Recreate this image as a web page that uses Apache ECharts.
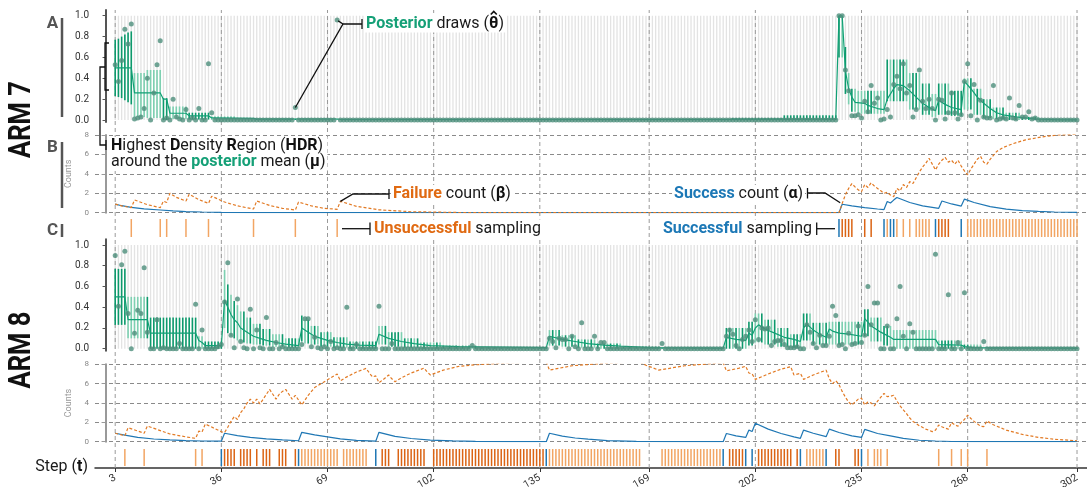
<!DOCTYPE html>
<html>
<head>
<meta charset="utf-8">
<script src="https://cdn.jsdelivr.net/npm/echarts@6/dist/echarts.min.js"></script>
<style>
  html, body { margin: 0; padding: 0; background: #fff; }
  #chart { width: 1087px; height: 487px; }
</style>
</head>
<body>
<div id="chart"></div>
<script>
// ---- data ----
const xTicks = [3, 36, 69, 102, 135, 169, 202, 235, 268, 302];
const probTicks = [0, 0.2, 0.4, 0.6, 0.8, 1.0];
const firstStep = 3, lastStep = 302;

// posterior draws that are clearly above zero, [step, value]; the rest sit on 0
const draws7 = [[3,0.53],[4,0.37],[5,0.57],[6,0.87],[7,0.73],[8,0.92],[9,0.01],[10,0.02],[11,0.03],[12,0.11],[13,0.4],[15,0.26],[16,0.53],[17,0.76],[19,0.02],[21,0.2],[22,0.03],[23,0.01],[25,0.1],[27,0.02],[29,0.11],[32,0.54],[33,0.07],[59,0.12],[72,0.96],
  [228,1.0],[229,1.0],[230,0.48],[231,0.28],[232,0.04],[233,0.04],[234,0.05],[235,0.02],[236,0.18],[237,0.08],[238,0.33],[239,0.16],[240,0.21],[242,0.01],[243,0.1],[244,0.03],[245,0.34],[246,0.42],[247,0.3],[248,0.54],[249,0.26],[250,0.33],[251,0.03],[252,0.1],[253,0.48],[254,0.18],[255,0.11],[256,0.2],[257,0.11],[259,0.2],[260,0.19],[261,0.01],[262,0.07],[263,0.26],[264,0.07],[265,0.01],[266,0.05],[267,0.37],[268,0.54],[269,0.04],[270,0.34],[272,0.19],[273,0.03],[274,0.02],[275,0.02],[276,0.33],[278,0.01],[279,0.02],[280,0.01],[281,0.21],[282,0.02],[283,0.01],[284,0.14],[285,0.03],[286,0.03],[287,0.08],[288,0.01],[289,0.02]];
const draws8 = [[3,0.9],[4,0.41],[5,0.81],[6,0.94],[7,0.34],[9,0.15],[10,0.37],[11,0.34],[12,0.78],[13,0.16],[16,0.28],[18,0.01],[23,0.05],[28,0.43],[30,0.18],[35,0.02],[36,0.04],[37,0.45],[38,0.83],[39,0.13],[40,0.01],[41,0.48],[42,0.07],[43,0.01],[45,0.38],[47,0.18],[48,0.01],[50,0.3],[53,0.06],[55,0.02],[61,0.04],[62,0.29],[63,0.29],[64,0.02],[65,0.11],[66,0.01],[68,0.02],[70,0.07],[72,0.01],[75,0.4],[78,0.04],[85,0.41],[89,0.05],[114,0.03],
  [138,0.1],[139,0.07],[140,0.01],[141,0.1],[142,0.09],[143,0.09],[145,0.12],[146,0.02],[148,0.25],[152,0.12],[154,0.06],[155,0.06],[173,0.05],
  [193,0.12],[194,0.18],[195,0.14],[196,0.03],[198,0.09],[199,0.12],[200,0.18],[201,0.07],[202,0.28],[203,0.09],[204,0.2],[205,0.19],[206,0.2],[207,0.03],[208,0.07],[209,0.08],[210,0.08],[211,0.04],[212,0.01],[213,0.01],[214,0.01],[215,0.02],[218,0.23],[219,0.16],[220,0.05],[221,0.01],[222,0.13],[223,0.03],[224,0.03],[225,0.12],[226,0.41],[227,0.32],[228,0.03],[229,0.04],[231,0.15],[232,0.04],[233,0.05],[234,0.22],[235,0.06],[236,0.13],[237,0.6],[238,0.23],[239,0.44],[240,0.44],[243,0.22],[246,0.29],[247,0.6],[248,0.12],[250,0.24],[251,0.16],[258,0.91],[262,0.52],[265,0.06],[267,0.54],[273,0.07]];

// posterior mean, [step, value]
const mean7 = [[3,0.5],[8,0.5],[9,0.26],[17,0.26],[18,0.2],[19,0.2],[20,0.065],[25,0.065],[26,0.04],[32,0.04],[33,0.02],[46,0.015],[47,0.01],[72,0.01],[73,0.005],[200,0.005],[227,0.01],[228,1.0],[229,1.0],[230,0.47],[231,0.3],[232,0.22],[233,0.17],[236,0.16],[237,0.14],[240,0.11],[242,0.1],[243,0.2],[245,0.3],[246,0.34],[248,0.33],[250,0.28],[252,0.22],[254,0.16],[256,0.12],[258,0.09],[259,0.19],[261,0.15],[263,0.12],[266,0.1],[267,0.37],[269,0.3],[271,0.22],[273,0.16],[275,0.11],[277,0.07],[279,0.05],[283,0.03],[289,0.01],[295,0.003],[302,0.002]];
const mean8 = [[3,0.5],[6,0.5],[7,0.28],[13,0.28],[14,0.15],[28,0.15],[29,0.08],[30,0.06],[31,0.03],[36,0.03],[37,0.47],[38,0.4],[39,0.33],[40,0.28],[41,0.25],[42,0.2],[44,0.16],[46,0.12],[48,0.1],[50,0.08],[53,0.06],[56,0.045],[60,0.03],[61,0.2],[63,0.16],[65,0.12],[67,0.1],[69,0.08],[72,0.06],[75,0.045],[79,0.035],[84,0.03],[85,0.14],[88,0.1],[92,0.07],[96,0.05],[101,0.03],[110,0.02],[137,0.01],[138,0.12],[142,0.09],[146,0.07],[150,0.05],[155,0.035],[160,0.025],[170,0.01],[192,0.005],[193,0.11],[196,0.09],[199,0.08],[200,0.15],[201,0.13],[202,0.2],[203,0.23],[205,0.19],[208,0.15],[211,0.11],[214,0.09],[216,0.07],[217,0.2],[218,0.24],[220,0.18],[222,0.14],[224,0.11],[225,0.19],[226,0.17],[228,0.15],[231,0.14],[235,0.12],[236,0.29],[238,0.22],[241,0.16],[244,0.11],[245,0.09],[258,0.09],[259,0.04],[266,0.035],[267,0.02],[270,0.01],[302,0.005]];

// HDR per block of steps, [fromStep, toStep, low, high]
const hdr7 = [[3,3,0.23,0.77],[4,4,0.22,0.78],[5,5,0.21,0.8],[6,6,0.19,0.82],[7,7,0.17,0.84],[8,8,0.15,0.85],[9,12,0.03,0.45],[13,17,0.02,0.48],[18,19,0.0,0.21],[20,25,0.01,0.13],[26,32,0.005,0.07],[33,40,0.002,0.035],[41,72,0,0.012],[195,210,0,0.02],[211,227,0,0.045],[228,229,0.6,1.0],[230,230,0.25,0.7],[231,231,0.15,0.45],[232,233,0.08,0.3],[234,242,0.06,0.28],[243,249,0.18,0.58],[250,253,0.1,0.45],[254,256,0.05,0.35],[257,258,0.03,0.25],[259,262,0.05,0.35],[263,266,0.04,0.28],[267,269,0.1,0.4],[270,272,0.05,0.3],[273,275,0.02,0.2],[276,279,0.01,0.12],[280,284,0,0.07],[285,290,0,0.03]];
const hdr8 = [[3,6,0.23,0.77],[7,13,0.1,0.5],[14,28,0.0,0.3],[29,30,0.0,0.12],[31,36,0.0,0.07],[37,37,0.2,0.76],[38,38,0.15,0.62],[39,39,0.12,0.52],[40,40,0.1,0.46],[41,41,0.08,0.42],[42,43,0.06,0.36],[44,45,0.05,0.3],[46,48,0.04,0.24],[49,51,0.03,0.19],[52,55,0.02,0.14],[56,60,0.01,0.1],[61,61,0.07,0.32],[62,63,0.05,0.28],[64,66,0.04,0.22],[67,70,0.02,0.16],[71,75,0.01,0.11],[76,84,0.0,0.07],[85,87,0.04,0.22],[88,92,0.02,0.16],[93,97,0.01,0.1],[98,104,0.0,0.06],[105,115,0,0.03],[116,137,0,0.015],[138,141,0.03,0.18],[142,146,0.02,0.13],[147,152,0.01,0.09],[153,160,0,0.05],[161,172,0,0.02],[173,192,0,0.01],[193,199,0.0,0.2],[200,201,0.03,0.26],[202,204,0.06,0.34],[205,208,0.04,0.28],[209,212,0.02,0.2],[213,216,0.01,0.14],[217,219,0.08,0.34],[220,224,0.04,0.25],[225,235,0.04,0.26],[236,237,0.12,0.38],[238,241,0.07,0.3],[242,244,0.03,0.22],[245,258,0.0,0.18],[259,266,0.0,0.08],[267,272,0.0,0.04],[273,302,0,0.01]];

// discounted success (alpha) and failure (beta) counts, [step, value]
const alpha7 = [[3,0.89],[5,0.72],[8,0.55],[12,0.4],[17,0.28],[21,0.18],[25,0.11],[30,0.07],[36,0.04],[45,0.015],[60,0],[228,0],[229,0.87],[232,0.7],[236,0.52],[240,0.38],[242,0.32],[243,1.15],[244,1.0],[245,1.3],[246,1.57],[250,1.05],[254,0.7],[259,0.45],[260,1.2],[263,0.9],[266,0.68],[267,1.4],[270,1.05],[275,0.63],[280,0.37],[285,0.22],[290,0.13],[295,0.07],[302,0.03]];
const beta7 = [[3,0.89],[5,0.7],[8,0.52],[9,1.31],[13,0.83],[17,0.52],[18,1.2],[19,1.05],[20,2.0],[22,1.58],[25,1.2],[26,1.9],[29,1.35],[32,0.96],[33,1.7],[37,1.1],[41,0.7],[46,0.38],[47,1.2],[51,0.75],[55,0.45],[59,0.28],[60,1.1],[64,0.7],[68,0.45],[72,0.35],[73,1.17],[78,0.65],[85,0.3],[95,0.1],[110,0.02],[130,0],[228,0],[229,0.96],[230,1.85],[231,2.5],[232,3.0],[233,2.65],[234,2.35],[235,2.17],[236,2.9],[237,2.6],[238,3.08],[239,2.75],[240,2.5],[241,2.25],[242,2.0],[243,2.1],[244,1.82],[245,1.65],[246,2.5],[247,2.25],[248,2.9],[249,2.6],[250,3.2],[251,3.0],[252,3.6],[253,4.2],[254,4.7],[255,5.1],[256,5.6],[257,5.0],[258,4.4],[259,5.0],[260,5.4],[261,5.7],[262,5.2],[263,5.4],[264,5.0],[265,5.4],[266,4.8],[267,4.3],[268,3.9],[269,4.5],[270,5.0],[271,5.5],[272,5.8],[273,5.2],[274,5.0],[275,5.5],[276,5.9],[277,6.3],[279,6.7],[282,7.1],[286,7.5],[291,7.8],[296,8.0],[302,8.07]];
const alpha8 = [[3,0.87],[6,0.68],[10,0.45],[15,0.28],[20,0.18],[25,0.11],[30,0.07],[36,0.05],[37,0.87],[41,0.62],[45,0.45],[50,0.3],[55,0.19],[60,0.1],[61,0.97],[65,0.7],[70,0.45],[73,0.3],[78,0.14],[84,0.05],[85,0.97],[90,0.55],[95,0.33],[101,0.17],[108,0.08],[115,0.03],[125,0],[137,0],[138,0.87],[142,0.58],[146,0.38],[150,0.26],[156,0.12],[165,0.04],[175,0],[192,0],[193,0.85],[196,0.6],[199,0.44],[200,1.2],[201,1.05],[202,1.9],[206,1.3],[210,0.85],[214,0.5],[216,0.35],[217,1.2],[220,0.87],[224,0.52],[225,1.3],[228,0.95],[232,0.6],[235,0.44],[236,1.27],[240,0.85],[244,0.6],[248,0.35],[253,0.15],[258,0.07],[263,0.02],[270,0],[302,0]];
const beta8 = [[3,0.87],[5,0.7],[6,0.62],[7,1.45],[12,0.87],[13,1.62],[20,0.8],[25,0.5],[28,0.35],[29,1.1],[30,1.0],[31,1.83],[36,1.03],[37,0.95],[38,1.5],[39,2.1],[40,2.6],[41,2.3],[42,3.0],[43,3.4],[44,4.0],[45,4.4],[46,4.0],[47,4.4],[48,3.9],[49,4.4],[50,4.9],[51,5.4],[52,4.9],[53,4.4],[54,4.9],[55,5.2],[56,5.4],[57,4.9],[58,4.4],[59,4.8],[60,4.3],[61,3.8],[62,4.3],[63,4.8],[65,5.6],[67,6.0],[69,6.4],[71,6.8],[72,7.0],[73,6.3],[75,6.7],[78,7.2],[81,7.58],[82,7.1],[83,6.7],[84,6.8],[85,6.1],[87,6.6],[88,6.9],[89,6.5],[90,6.2],[92,6.6],[95,7.1],[99,7.6],[100,7.2],[101,6.9],[105,7.4],[110,7.8],[115,7.95],[125,8.15],[137,8.26],[138,7.4],[145,7.85],[155,8.1],[166,8.26],[168,7.9],[172,7.4],[180,7.85],[192,8.16],[193,7.33],[197,7.6],[199,7.8],[200,7.1],[201,7.0],[202,6.44],[206,7.0],[210,7.5],[213,7.75],[214,6.9],[216,7.06],[217,6.44],[220,6.9],[224,7.4],[225,6.5],[226,6.0],[227,6.3],[228,5.9],[229,5.2],[230,4.6],[231,4.1],[232,3.8],[233,4.1],[234,4.4],[235,4.5],[236,3.8],[237,4.1],[238,4.0],[239,3.7],[240,4.2],[241,4.6],[242,5.0],[243,4.65],[244,4.7],[245,4.8],[246,4.2],[247,3.7],[248,3.3],[249,2.9],[250,2.45],[251,2.1],[253,1.65],[255,1.3],[257,1.04],[258,1.2],[259,1.73],[260,1.55],[261,1.4],[262,1.3],[263,1.97],[264,1.75],[265,1.6],[266,2.0],[267,2.3],[268,2.75],[269,2.4],[270,2.1],[272,1.6],[273,1.55],[274,2.14],[276,1.75],[280,1.2],[285,0.75],[290,0.45],[295,0.25],[302,0.1]];

// sampling events (rug)
const fail7 = [8,17,19,25,32,46,59,72,229,230,231,232,236,238,243,246,248,250,252,253,254,255,256,259,260,261,262,268,269,270,271,272,273,274,275,276,277,278,279,280,281,282,283,284,285,286,287,288,289,290,291,292,293,294,295,296,297,298,299,300,301,302];
const succ7 = [228,242,244,245,258,266];
const fail8 = [6,12,28,30,37,38,39,40,42,43,44,45,47,49,50,51,54,55,56,59,61,62,63,64,65,66,67,68,69,70,71,72,74,75,76,77,78,79,80,81,86,87,88,91,92,93,94,95,96,97,98,99,
  102,103,104,105,106,107,108,109,110,111,112,113,114,115,116,117,118,119,120,121,122,123,124,125,126,127,128,129,130,131,132,133,134,135,136,
  138,139,140,141,142,143,144,145,146,147,148,149,150,151,152,153,154,155,156,157,158,159,160,161,162,163,164,165,166,
  173,174,175,176,177,178,179,180,181,182,183,184,185,186,187,188,189,190,191,
  194,195,196,197,198,203,204,205,206,207,208,209,210,211,212,213,215,218,219,220,221,222,223,227,228,233,234,237,239,240,241,243,259,263,266,268,274];
const succ8 = [36,60,84,137,192,199,201,216,224,235];

// ---- drawing ----
const XMIN = -3.28, XMAX = 305.1;
const FONT = 'Roboto';
const C = {
  stripe: '#e3e3e3', hdrDark: '#0c9a6c', hdrLight: '#7dd0b1', mean: '#11a075', dot: '#4d8e7c',
  alpha: '#1f77b4', beta: '#e27a24', rugDark: '#db6414', rugLight: '#f2a563', grid: '#9a9a9a'
};

const steps = [];
for (let t = firstStep; t <= lastStep; t++) steps.push(t);

function fullDraws(nonzero) {
  const m = {};
  nonzero.forEach(d => { m[d[0]] = d[1]; });
  return steps.map(t => [t, m[t] !== undefined ? m[t] : 0]);
}
// HDR bars switch shade every time the arm is sampled
function expandHdr(segs, fails, succs) {
  const events = fails.concat(succs);
  const out = [];
  segs.forEach(s => {
    for (let t = s[0]; t <= s[1]; t++) {
      const k = events.filter(e => e < t).length;
      out.push([t, s[2], s[3], k % 2]);
    }
  });
  return out;
}
// rug shade switches after every success
function rugData(fails, succs) {
  const shade = t => succs.filter(s => s < t).length % 2 ? 0 : 1;
  return fails.map(t => [t, 0, 1, shade(t)]).concat(succs.map(t => [t, 0, 1, 2]));
}
function vline(colorFn, width, dash, y0, y1) {
  return function (params, api) {
    const t = api.value(0);
    const a = api.coord([t, y0 !== undefined ? y0 : api.value(1)]);
    const b = api.coord([t, y1 !== undefined ? y1 : api.value(2)]);
    return {
      type: 'line',
      shape: { x1: a[0], y1: a[1], x2: b[0], y2: b[1] },
      style: { stroke: colorFn(api.value(3)), lineWidth: width, lineDash: dash || null }
    };
  };
}

const grids = [
  { left: 95, top: 10, width: 992, height: 112 },      // 0 arm 7 draws
  { left: 95, top: 135, width: 992, height: 77.7 },    // 1 arm 7 counts
  { left: 95, top: 219, width: 992, height: 18 },      // 2 arm 7 rug
  { left: 95, top: 239.3, width: 992, height: 111.4 }, // 3 arm 8 draws
  { left: 95, top: 364.3, width: 992, height: 77.4 },  // 4 arm 8 counts
  { left: 95, top: 449, width: 992, height: 19 },      // 5 arm 8 rug + step axis
  { left: 95, top: 10, width: 992, height: 458 }       // 6 vertical tick lines
].map(g => Object.assign({ outerBoundsMode: 'none', containLabel: false }, g));

const xAxes = grids.map((g, i) => {
  const ax = { type: 'value', gridIndex: i, min: XMIN, max: XMAX, show: false, splitLine: { show: false } };
  if (i === 5) {
    Object.assign(ax, {
      show: true,
      axisLine: { lineStyle: { color: '#333', width: 1.5 } },
      axisTick: { customValues: xTicks, length: 4, lineStyle: { color: '#333' } },
      axisLabel: { customValues: xTicks, rotate: 30, fontSize: 10.5, color: '#333', margin: 9, fontFamily: FONT }
    });
  }
  return ax;
});

function probAxis(i) {
  return {
    type: 'value', gridIndex: i, min: -0.019, max: 1.055,
    axisLine: { show: true, lineStyle: { color: '#555', width: 2 } },
    axisTick: { show: true, customValues: probTicks, length: 3, lineStyle: { color: '#555' } },
    axisLabel: { customValues: probTicks, fontSize: 10, color: '#333', margin: 6, fontFamily: FONT,
      formatter: v => v.toFixed(1) },
    splitLine: { show: false }
  };
}
function countAxis(i) {
  return {
    type: 'value', gridIndex: i, min: 0, max: 8, interval: 2,
    name: 'Counts', nameLocation: 'middle', nameGap: 15,
    nameTextStyle: { fontSize: 9, color: '#999', fontFamily: FONT },
    axisLine: { show: true, lineStyle: { color: '#999', width: 2 } },
    axisTick: { show: true, length: 4, lineStyle: { color: '#999' } },
    axisLabel: { fontSize: 8, color: '#888', margin: 6, fontFamily: FONT },
    splitLine: { show: true, lineStyle: { color: '#8a8a8a', type: [4, 3], width: 1 } }
  };
}
function plainAxis(i) {
  return { type: 'value', gridIndex: i, min: 0, max: 1, show: false, splitLine: { show: false } };
}
const yAxes = [probAxis(0), countAxis(1), plainAxis(2), probAxis(3), countAxis(4), plainAxis(5), plainAxis(6)];

function armSeries(gDraw, gCount, gRug, draws, mean, hdr, alpha, beta, fails, succs, rugTop) {
  return [
    { type: 'custom', xAxisIndex: gDraw, yAxisIndex: gDraw, z: 2, silent: true,
      renderItem: vline(() => C.stripe, 1.3, null, 0, 1), data: steps.map(t => [t]) },
    { type: 'custom', xAxisIndex: gDraw, yAxisIndex: gDraw, z: 4, silent: true,
      renderItem: vline(c => (c ? C.hdrLight : C.hdrDark), 1.6), data: expandHdr(hdr, fails, succs) },
    { type: 'line', xAxisIndex: gDraw, yAxisIndex: gDraw, z: 5, showSymbol: false, silent: true,
      lineStyle: { color: C.mean, width: 1.2 }, data: mean },
    { type: 'scatter', xAxisIndex: gDraw, yAxisIndex: gDraw, z: 6, symbolSize: 5, silent: true,
      itemStyle: { color: C.dot }, data: fullDraws(draws) },
    { type: 'line', xAxisIndex: gCount, yAxisIndex: gCount, z: 5, showSymbol: false, silent: true,
      lineStyle: { color: C.alpha, width: 1.2 }, data: alpha },
    { type: 'line', xAxisIndex: gCount, yAxisIndex: gCount, z: 5, showSymbol: false, silent: true,
      lineStyle: { color: C.beta, width: 1.2, type: [3, 2] }, data: beta },
    { type: 'custom', xAxisIndex: gRug, yAxisIndex: gRug, z: 4, silent: true,
      renderItem: vline(c => (c === 2 ? C.alpha : (c ? C.rugLight : C.rugDark)), 1.5, null, rugTop, 1),
      data: rugData(fails, succs) }
  ];
}

const series = [
  { type: 'custom', xAxisIndex: 6, yAxisIndex: 6, z: 3, silent: true,
    renderItem: vline(() => C.grid, 1, [4, 3], 0, 1), data: xTicks.map(t => [t]) }
].concat(
  armSeries(0, 1, 2, draws7, mean7, hdr7, alpha7, beta7, fail7, succ7, 0),
  armSeries(3, 4, 5, draws8, mean8, hdr8, alpha8, beta8, fail8, succ8, 0.1)
);

const myChart = echarts.init(document.getElementById('chart'), null, { renderer: 'canvas' });
myChart.setOption({
  animation: false,
  backgroundColor: '#fff',
  textStyle: { fontFamily: FONT },
  grid: grids, xAxis: xAxes, yAxis: yAxes, series: series
});

// ---- labels and annotations ----
const ink = '#1a1a1a';
const measure = document.createElement('canvas').getContext('2d');
function textWidth(str, font) { measure.font = font; return measure.measureText(str).width; }

function rich() {
  const base = { fontFamily: FONT, fontSize: 16, lineHeight: 16, fill: ink, color: ink };
  return {
    n: Object.assign({}, base),
    b: Object.assign({}, base, { fontWeight: 'bold', fill: '#111', color: '#111' }),
    g: Object.assign({}, base, { fontWeight: 'bold', fill: '#15a077', color: '#15a077' }),
    o: Object.assign({}, base, { fontWeight: 'bold', fill: '#e06a12', color: '#e06a12' }),
    s: Object.assign({}, base, { fontWeight: 'bold', fill: '#1c78b6', color: '#1c78b6' })
  };
}
function note(x, y, text, align) {
  return {
    type: 'text', x: x, y: y, z: 50,
    style: { text: text, rich: rich(), font: '16px ' + FONT, fill: ink,
      align: align || 'left', verticalAlign: 'middle', textAlign: align || 'left', textVerticalAlign: 'middle',
      backgroundColor: '#fff', padding: [1, 2] }
  };
}
function pl(points, w) {
  return { type: 'polyline', z: 60, shape: { points: points }, style: { stroke: '#111', lineWidth: w || 1.3, fill: null } };
}
function side(x, y, label) {
  return {
    type: 'text', x: x, y: y, z: 50,
    style: { text: label, font: 'bold 17px ' + FONT, fill: '#555', align: 'center', verticalAlign: 'middle',
      textAlign: 'center', textVerticalAlign: 'middle' }
  };
}
function bar(x, y0, y1) {
  return { type: 'line', z: 50, shape: { x1: x, y1: y0, x2: x, y2: y1 }, style: { stroke: '#555', lineWidth: 2.5 } };
}
function armLabel(y, label) {
  return {
    type: 'text', x: 21.5, y: y, rotation: Math.PI / 2, scaleX: 0.8, z: 50,
    style: { text: label, font: 'bold 32px ' + FONT, fill: '#111', align: 'center', verticalAlign: 'middle',
      textAlign: 'center', textVerticalAlign: 'middle' }
  };
}

const px = (g, p) => myChart.convertToPixel({ gridIndex: g }, p);
const pDraw59 = px(0, [59, 0.12]);
const pDraw72 = px(0, [72, 0.96]);
const pBeta73 = px(1, [73, 1.17]);
const pAlpha229 = px(1, [229, 0.87]);

// hat over theta in "Posterior draws (theta-hat)"
const postX = 364, postY = 23.5;
const thetaX = postX + 2 + textWidth('Posterior', 'bold 16px ' + FONT) + textWidth(' draws (', '16px ' + FONT);
const thetaMid = thetaX + textWidth('θ', 'bold 16px ' + FONT) / 2;

myChart.setOption({
  graphic: [
    side(52.5, 24, 'A'), bar(62, 18, 117),
    side(52.5, 147.5, 'B'), bar(62, 142, 208),
    side(52.5, 230.5, 'C'), bar(62, 224, 237),
    armLabel(119.5, 'ARM 7'), armLabel(350, 'ARM 8'),
    { type: 'text', x: 88, y: 466.5, z: 50,
      style: { text: '{n|Step (}{b|t}{n|)}', rich: rich(), align: 'right', verticalAlign: 'middle',
        textAlign: 'right', textVerticalAlign: 'middle' } },

    // posterior draws
    note(postX, postY, '{g|Posterior}{n| draws (}{b|θ}{n|)}'),
    { type: 'polyline', z: 61, shape: { points: [[thetaMid - 3, 14.5], [thetaMid, 11.5], [thetaMid + 3, 14.5]] },
      style: { stroke: '#111', lineWidth: 1.6, fill: null } },
    pl([[pDraw59[0], pDraw59[1]], [343, 24], [362, 24]]),
    pl([[pDraw72[0] + 1, pDraw72[1] + 1], [343, 24]]),
    pl([[362, 19], [362, 29]]),

    // HDR bracket
    note(109, 154, '{b|H}{n|ighest }{b|D}{n|ensity }{b|R}{n|egion (}{b|HDR}{n|)}\n{n|around the }{g|posterior}{n| mean (}{b|μ}{n|)}'),
    pl([[109, 43], [105, 43], [105, 90], [109, 90]]),
    pl([[105, 67], [100, 67], [100, 145], [106, 145]]),
    pl([[106, 140], [106, 150]]),

    // failure / success counts
    note(391, 194, '{o|Failure}{n| count (}{b|β}{n|)}'),
    pl([[pBeta73[0], pBeta73[1]], [353, 194], [389, 194]]),
    pl([[389, 189], [389, 199]]),
    note(805, 194, '{s|Success}{n| count (}{b|α}{n|)}', 'right'),
    pl([[807.5, 193], [825, 193], [pAlpha229[0] - 2, pAlpha229[1] - 1.5]]),
    pl([[807.5, 188], [807.5, 198.5]]),

    // sampling rug
    note(372, 228.5, '{o|Unsuccessful}{n| sampling}'),
    pl([[342, 228.7], [370, 228.7]]),
    pl([[370, 222.5], [370, 235]]),
    note(814, 228.5, '{s|Successful}{n| sampling}', 'right'),
    pl([[816.7, 228.7], [835, 228.7]]),
    pl([[816.7, 222.5], [816.7, 235]])
  ]
});
</script>
</body>
</html>
